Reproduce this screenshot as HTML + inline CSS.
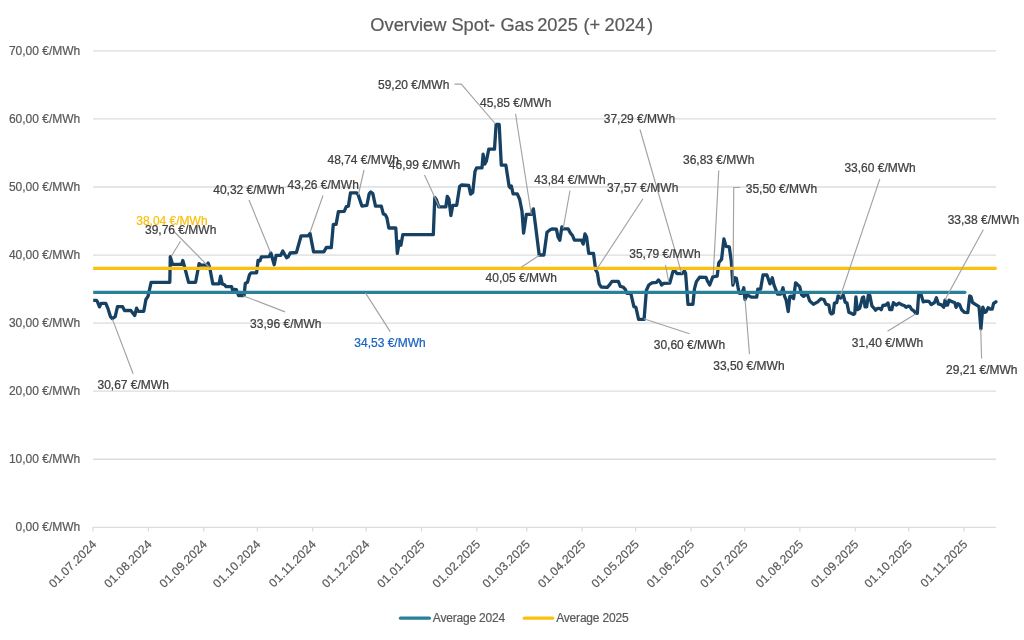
<!DOCTYPE html>
<html lang="de"><head><meta charset="utf-8"><title>Overview Spot- Gas 2025 (+ 2024)</title>
<style>html,body{margin:0;padding:0;background:#fff;}body{width:1024px;height:640px;overflow:hidden;font-family:"Liberation Sans",sans-serif;}svg{display:block;}text{font-family:"Liberation Sans",sans-serif;}</style></head><body>
<svg width="1024" height="640" viewBox="0 0 1024 640">
<rect width="1024" height="640" fill="#ffffff"/>
<defs><clipPath id="plot"><rect x="93.2" y="40" width="920" height="500"/></clipPath></defs>
<text y="30.9" font-size="18.3" fill="#595959" stroke="#595959" stroke-width="0.2" id="title"><tspan x="370.3">Overview</tspan> <tspan x="451.4">Spot-</tspan> <tspan x="500.4">Gas</tspan> <tspan x="537.2">2025</tspan> <tspan x="583.4">(+</tspan> <tspan x="604.6">2024</tspan><tspan dx="1.8">)</tspan></text>
<g stroke="#dcdcdc" stroke-width="1.3" fill="none">
<line x1="93.1" y1="459.24" x2="996.2" y2="459.24"/>
<line x1="93.1" y1="391.18" x2="996.2" y2="391.18"/>
<line x1="93.1" y1="323.12" x2="996.2" y2="323.12"/>
<line x1="93.1" y1="255.06" x2="996.2" y2="255.06"/>
<line x1="93.1" y1="187.00" x2="996.2" y2="187.00"/>
<line x1="93.1" y1="118.94" x2="996.2" y2="118.94"/>
<line x1="93.1" y1="50.88" x2="996.2" y2="50.88"/>
</g>
<g font-size="12" fill="#595959" stroke="#595959" stroke-width="0.2" text-anchor="end" id="ylab">
<text x="80.3" y="531.40">0,00 €/MWh</text>
<text x="80.3" y="463.34">10,00 €/MWh</text>
<text x="80.3" y="395.28">20,00 €/MWh</text>
<text x="80.3" y="327.22">30,00 €/MWh</text>
<text x="80.3" y="259.16">40,00 €/MWh</text>
<text x="80.3" y="191.10">50,00 €/MWh</text>
<text x="80.3" y="123.04">60,00 €/MWh</text>
<text x="80.3" y="54.98">70,00 €/MWh</text>
</g>
<g stroke="#dcdcdc" stroke-width="1.3" fill="none">
<line x1="92.44999999999999" y1="527.3" x2="996.2" y2="527.3"/>
<line x1="93.10" y1="527.3" x2="93.10" y2="531.5"/>
<line x1="148.43" y1="527.3" x2="148.43" y2="531.5"/>
<line x1="203.76" y1="527.3" x2="203.76" y2="531.5"/>
<line x1="257.30" y1="527.3" x2="257.30" y2="531.5"/>
<line x1="312.63" y1="527.3" x2="312.63" y2="531.5"/>
<line x1="366.17" y1="527.3" x2="366.17" y2="531.5"/>
<line x1="421.50" y1="527.3" x2="421.50" y2="531.5"/>
<line x1="476.83" y1="527.3" x2="476.83" y2="531.5"/>
<line x1="526.81" y1="527.3" x2="526.81" y2="531.5"/>
<line x1="582.14" y1="527.3" x2="582.14" y2="531.5"/>
<line x1="635.68" y1="527.3" x2="635.68" y2="531.5"/>
<line x1="691.01" y1="527.3" x2="691.01" y2="531.5"/>
<line x1="744.55" y1="527.3" x2="744.55" y2="531.5"/>
<line x1="799.88" y1="527.3" x2="799.88" y2="531.5"/>
<line x1="855.21" y1="527.3" x2="855.21" y2="531.5"/>
<line x1="908.75" y1="527.3" x2="908.75" y2="531.5"/>
<line x1="964.08" y1="527.3" x2="964.08" y2="531.5"/>
</g>
<g font-size="12" fill="#595959" stroke="#595959" stroke-width="0.2" text-anchor="end" letter-spacing="0.16" id="xlab">
<text transform="translate(94.20,541.9) rotate(-45)" x="0" y="4.3">01.07.2024</text>
<text transform="translate(149.53,541.9) rotate(-45)" x="0" y="4.3">01.08.2024</text>
<text transform="translate(204.86,541.9) rotate(-45)" x="0" y="4.3">01.09.2024</text>
<text transform="translate(258.40,541.9) rotate(-45)" x="0" y="4.3">01.10.2024</text>
<text transform="translate(313.73,541.9) rotate(-45)" x="0" y="4.3">01.11.2024</text>
<text transform="translate(367.27,541.9) rotate(-45)" x="0" y="4.3">01.12.2024</text>
<text transform="translate(422.60,541.9) rotate(-45)" x="0" y="4.3">01.01.2025</text>
<text transform="translate(477.93,541.9) rotate(-45)" x="0" y="4.3">01.02.2025</text>
<text transform="translate(527.91,541.9) rotate(-45)" x="0" y="4.3">01.03.2025</text>
<text transform="translate(583.24,541.9) rotate(-45)" x="0" y="4.3">01.04.2025</text>
<text transform="translate(636.78,541.9) rotate(-45)" x="0" y="4.3">01.05.2025</text>
<text transform="translate(692.11,541.9) rotate(-45)" x="0" y="4.3">01.06.2025</text>
<text transform="translate(745.65,541.9) rotate(-45)" x="0" y="4.3">01.07.2025</text>
<text transform="translate(800.98,541.9) rotate(-45)" x="0" y="4.3">01.08.2025</text>
<text transform="translate(856.31,541.9) rotate(-45)" x="0" y="4.3">01.09.2025</text>
<text transform="translate(909.85,541.9) rotate(-45)" x="0" y="4.3">01.10.2025</text>
<text transform="translate(965.18,541.9) rotate(-45)" x="0" y="4.3">01.11.2025</text>
</g>
<g clip-path="url(#plot)">
<path d="M92.6,300.3 L96.4,300.3 L97.5,301.9 L99.5,306.9 L101.1,303.4 L105.8,303.4 L108.1,308.9 L110.5,316.7 L112.3,318.6 L115.2,316.7 L117.5,306.6 L122.5,306.6 L124.5,310.5 L130.8,310.5 L134.7,315.5 L136.6,308.1 L138.1,311.3 L143.8,311.3 L145.9,299.5 L148.0,296.4 L151.1,282.3 L169.8,282.3 L170.3,256.6 L172.5,264.4 L181.6,264.4 L182.8,260.5 L184.4,266.3 L188.6,282.3 L195.6,282.3 L199.1,263.6 L201.1,265.2 L206.6,265.2 L208.1,263.1 L209.7,267.5 L212.8,283.9 L219.1,283.9 L220.6,276.1 L222.2,283.9 L224.5,284.7 L226.1,286.6 L230.8,286.6 L231.6,286.6 L233.1,292.0 L234.4,289.4 L236.3,289.7 L238.6,295.6 L244.1,295.6 L245.3,283.4 L247.5,282.2 L249.5,274.8 L251.1,272.8 L256.6,272.8 L258.1,260.3 L260.0,260.8 L261.3,256.9 L269.1,256.6 L270.9,253.0 L274.2,264.7 L276.1,255.3 L280.8,255.3 L282.8,250.9 L284.7,254.5 L286.6,257.7 L288.1,256.9 L290.2,253.0 L296.4,252.5 L301.1,235.8 L308.1,235.8 L310.0,233.4 L313.6,251.9 L323.8,251.9 L326.3,247.5 L331.3,247.5 L333.3,224.4 L336.1,224.4 L338.4,211.6 L344.2,211.3 L346.3,206.6 L348.4,206.1 L350.5,192.8 L356.7,192.8 L358.3,195.2 L361.9,206.1 L366.9,205.3 L369.2,193.6 L370.8,192.0 L372.8,193.6 L375.5,206.1 L381.3,206.1 L383.3,213.9 L385.3,214.7 L386.9,217.8 L388.8,228.0 L395.8,228.0 L397.3,253.4 L399.4,241.3 L400.9,245.2 L402.8,234.7 L433.3,234.7 L434.8,197.5 L436.4,199.8 L438.8,206.9 L445.8,206.9 L447.3,196.3 L448.9,199.1 L450.9,215.5 L452.8,205.3 L456.7,205.3 L459.7,186.3 L461.7,185.0 L468.8,185.5 L470.6,194.1 L472.7,192.5 L475.0,171.4 L476.6,167.8 L482.0,167.8 L483.1,154.2 L484.7,164.1 L486.3,161.3 L488.8,149.1 L494.5,149.1 L496.1,124.5 L499.2,124.5 L501.3,165.2 L505.9,165.2 L509.1,186.3 L510.2,187.8 L511.3,185.9 L513.1,193.8 L517.3,193.8 L519.7,199.5 L522.0,211.3 L523.6,233.1 L526.3,214.4 L531.4,214.4 L533.4,208.9 L535.3,223.8 L539.2,255.0 L543.9,255.0 L547.0,232.3 L550.2,229.7 L552.5,228.8 L556.4,229.2 L558.0,237.0 L559.8,240.2 L561.9,226.9 L563.4,228.8 L568.1,228.8 L570.5,233.1 L572.5,235.5 L574.4,240.2 L581.4,240.2 L583.2,244.1 L585.0,233.9 L586.6,237.0 L588.7,253.4 L593.5,253.4 L595.7,270.2 L597.3,272.6 L599.2,283.9 L601.1,287.0 L607.3,287.3 L609.7,284.7 L612.0,281.3 L618.3,281.3 L620.3,286.3 L623.0,287.0 L625.3,289.4 L626.9,293.3 L630.8,293.3 L633.9,306.6 L635.9,307.3 L638.6,319.4 L644.1,319.4 L646.4,290.2 L648.8,285.0 L651.9,282.8 L656.6,282.3 L658.4,280.0 L660.0,281.6 L661.6,285.0 L663.6,283.4 L669.8,283.1 L673.0,271.4 L675.0,270.9 L676.9,273.5 L682.3,273.6 L684.4,270.9 L685.6,273.3 L688.0,304.3 L692.9,304.3 L694.5,288.6 L696.4,281.6 L699.6,277.2 L706.0,277.3 L707.3,280.8 L709.7,285.0 L712.8,276.9 L717.2,276.1 L718.8,262.8 L721.6,259.3 L723.9,239.0 L726.0,246.4 L729.3,246.9 L731.3,261.3 L732.9,285.1 L734.8,277.7 L736.4,278.3 L738.3,289.0 L739.5,293.3 L741.9,293.3 L743.8,287.8 L745.0,299.5 L747.3,294.8 L751.3,297.2 L756.7,297.2 L757.8,289.1 L760.6,289.1 L763.0,275.0 L766.9,275.0 L770.0,283.9 L772.3,277.7 L773.9,284.7 L777.5,294.1 L780.9,294.1 L783.0,287.8 L784.5,296.1 L786.1,299.9 L788.2,311.5 L789.8,296.6 L791.3,296.1 L793.6,298.5 L795.6,282.8 L799.7,286.6 L801.6,294.8 L803.6,296.4 L805.6,294.8 L807.5,294.8 L809.8,301.1 L813.4,304.2 L817.7,301.9 L820.8,298.8 L823.9,299.5 L825.9,304.1 L828.8,305.0 L830.2,312.5 L831.4,313.9 L833.2,313.0 L834.4,303.1 L836.7,302.7 L838.1,295.8 L840.5,298.0 L843.3,295.2 L845.2,302.2 L847.0,303.1 L848.9,312.5 L851.2,313.2 L853.6,314.4 L854.8,313.4 L855.9,297.0 L857.3,309.7 L859.7,308.3 L862.5,297.5 L863.6,297.0 L865.1,306.9 L866.7,306.9 L868.3,295.2 L869.8,295.4 L871.9,305.9 L874.2,308.3 L875.6,310.2 L877.5,308.3 L879.4,308.3 L881.2,309.7 L882.9,305.5 L885.9,305.0 L888.0,302.9 L889.7,309.7 L891.8,309.5 L893.4,302.7 L896.2,305.0 L899.1,303.1 L901.9,304.8 L904.2,305.5 L906.1,307.3 L908.0,306.1 L909.8,306.4 L911.7,309.5 L913.6,310.6 L915.9,313.4 L917.3,313.3 L918.6,295.0 L921.2,295.0 L923.2,301.8 L926.1,301.1 L928.9,301.4 L931.2,304.6 L934.5,302.5 L936.4,297.8 L938.4,303.9 L941.5,304.8 L943.7,307.2 L945.0,300.2 L946.5,305.1 L947.6,305.1 L949.0,300.2 L952.3,301.8 L954.7,302.5 L956.1,307.4 L957.9,303.6 L959.6,304.6 L961.7,309.8 L964.3,312.3 L967.8,312.6 L969.7,295.9 L970.9,296.4 L972.5,302.5 L975.8,304.6 L979.0,306.7 L980.9,328.8 L982.8,307.2 L984.7,312.3 L986.1,311.9 L988.1,307.7 L990.3,309.2 L992.2,309.2 L993.6,303.4 L995.9,301.8" fill="none" stroke="#174162" stroke-width="3.3" stroke-linejoin="round" stroke-linecap="round"/>
<line x1="92.1" y1="292.29" x2="964.9" y2="292.29" stroke="#2b8099" stroke-width="3.2" stroke-linecap="round"/>
<line x1="92.1" y1="268.40" x2="995.3" y2="268.40" stroke="#fcc010" stroke-width="3.2" stroke-linecap="round"/>
</g>
<g stroke="#a2a2a2" stroke-width="1.15" fill="none">
<polyline points="454.5,84.1 461.3,84.1 495.5,124"/>
<polyline points="515.5,113.75 531.3,214.5"/>
<polyline points="424.5,175 439.5,207.5"/>
<polyline points="570,190.5 563.2,228.5"/>
<polyline points="640,129.5 681.6,273.3"/>
<polyline points="718.75,170.5 713.25,275.5"/>
<polyline points="643,198.75 596.25,270"/>
<polyline points="740,187.5 733.75,187.5 733,283.75"/>
<polyline points="665.5,265 668.75,282.5"/>
<polyline points="689.5,333.75 643.75,318.75"/>
<polyline points="749.5,354.25 745,298.75"/>
<polyline points="879.85,178.9 840.3,296.5"/>
<polyline points="983.3,229.7 945,299.7"/>
<polyline points="887.5,331.3 916,313.75"/>
<polyline points="981.6,358.6 980.7,329"/>
<polyline points="180.5,241.25 171.25,256.25"/>
<polyline points="173.5,231 209.5,267.5"/>
<polyline points="249,200 270.5,252.5"/>
<polyline points="323,195.5 310,232.5"/>
<polyline points="133.1,373.7 112.5,319.4"/>
<polyline points="285,311.9 243,295.75"/>
<polyline points="390.2,331.6 365.6,293.1"/>
<polyline points="364,170 358.3,195"/>
<polyline points="539.4,255.25 521.25,267.2"/>
</g>
<g font-size="12" stroke-width="0.24" id="dlab">
<text x="378" y="88.75" fill="#404040" stroke="#404040">59,20 €/MWh</text>
<text x="480" y="107" fill="#404040" stroke="#404040">45,85 €/MWh</text>
<text x="388.8" y="168.75" fill="#404040" stroke="#404040">46,99 €/MWh</text>
<text x="534.3" y="184.25" fill="#404040" stroke="#404040">43,84 €/MWh</text>
<text x="603.75" y="123" fill="#404040" stroke="#404040">37,29 €/MWh</text>
<text x="683" y="163.75" fill="#404040" stroke="#404040">36,83 €/MWh</text>
<text x="607" y="191.75" fill="#404040" stroke="#404040">37,57 €/MWh</text>
<text x="745.75" y="192.5" fill="#404040" stroke="#404040">35,50 €/MWh</text>
<text x="629.25" y="258" fill="#404040" stroke="#404040">35,79 €/MWh</text>
<text x="653.75" y="348.75" fill="#404040" stroke="#404040">30,60 €/MWh</text>
<text x="713.25" y="369.5" fill="#404040" stroke="#404040">33,50 €/MWh</text>
<text x="844.4" y="172.4" fill="#404040" stroke="#404040">33,60 €/MWh</text>
<text x="947.7" y="223.8" fill="#404040" stroke="#404040">33,38 €/MWh</text>
<text x="851.8" y="346.6" fill="#404040" stroke="#404040">31,40 €/MWh</text>
<text x="946.1" y="374.0" fill="#404040" stroke="#404040">29,21 €/MWh</text>
<text x="136.25" y="224.5" fill="#fcc010" stroke="#fcc010">38,04 €/MWh</text>
<text x="145" y="233.75" fill="#404040" stroke="#404040">39,76 €/MWh</text>
<text x="213.25" y="193.75" fill="#404040" stroke="#404040">40,32 €/MWh</text>
<text x="287.5" y="189.25" fill="#404040" stroke="#404040">43,26 €/MWh</text>
<text x="327.5" y="163.75" fill="#404040" stroke="#404040">48,74 €/MWh</text>
<text x="97.5" y="388.7" fill="#404040" stroke="#404040">30,67 €/MWh</text>
<text x="250.1" y="327.6" fill="#404040" stroke="#404040">33,96 €/MWh</text>
<text x="354.3" y="346.5" fill="#1b63c0" stroke="#1b63c0">34,53 €/MWh</text>
<text x="485.6" y="281.5" fill="#404040" stroke="#404040">40,05 €/MWh</text>
</g>
<line x1="400.5" y1="618.2" x2="429.3" y2="618.2" stroke="#2b8099" stroke-width="3.3" stroke-linecap="round"/>
<text x="432.8" y="622.4" font-size="12" letter-spacing="-0.19" fill="#595959" stroke="#595959" stroke-width="0.2" id="leg1">Average 2024</text>
<line x1="524.3" y1="618.2" x2="552.7" y2="618.2" stroke="#fcc010" stroke-width="3.3" stroke-linecap="round"/>
<text x="556.2" y="622.4" font-size="12" letter-spacing="-0.19" fill="#595959" stroke="#595959" stroke-width="0.2" id="leg2">Average 2025</text>
</svg></body></html>
